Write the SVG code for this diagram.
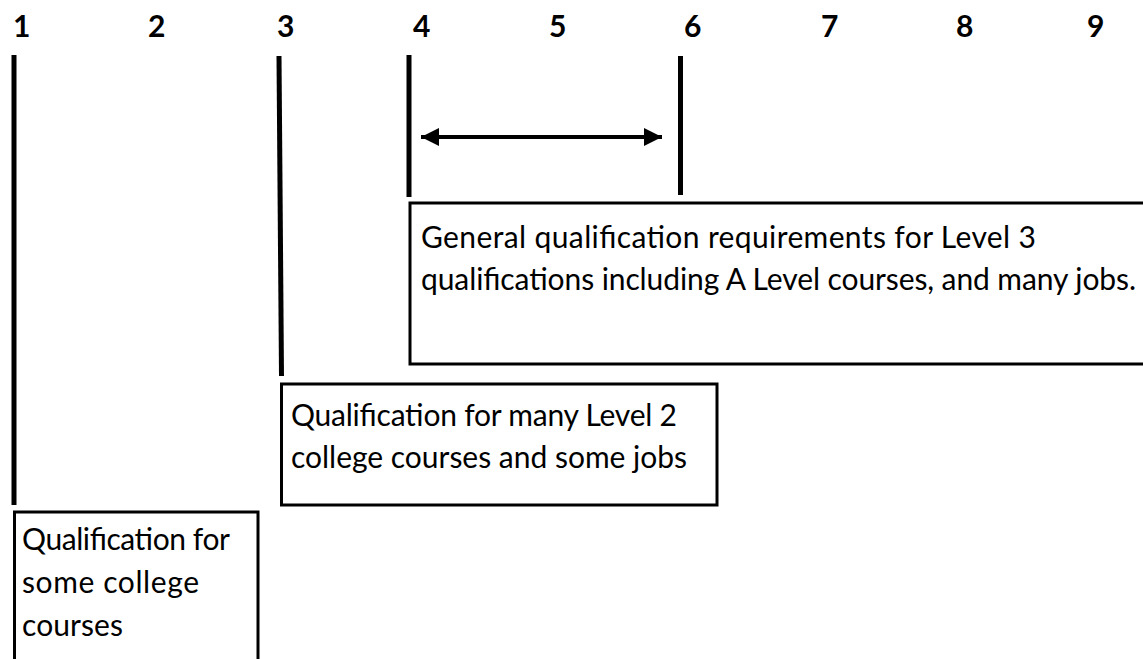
<svg xmlns="http://www.w3.org/2000/svg" width="1143" height="659" viewBox="0 0 1143 659">
<style>
.num{font-family:Lato,"Liberation Sans",sans-serif;font-weight:bold;font-size:30px;fill:#000}
.txt{font-family:Lato,"Liberation Sans",sans-serif;font-size:30px;fill:#000}
.bar{stroke:#000;stroke-width:5;fill:none}
.box{stroke:#000;stroke-width:3;fill:#fff}
</style>
<defs>
<marker id="ah" viewBox="0 0 10 10" refX="10" refY="5" markerWidth="4.5" markerHeight="4.5" orient="auto-start-reverse" markerUnits="strokeWidth">
<path d="M0,0 L10,5 L0,10 z" fill="#000"/>
</marker>
</defs>
<rect width="1143" height="659" fill="#fff"/>
<g id="scale">
<text class="num" x="13" y="37">1</text>
<text class="num" x="148" y="37">2</text>
<text class="num" x="277" y="37">3</text>
<text class="num" x="413" y="37">4</text>
<text class="num" x="549" y="37">5</text>
<text class="num" x="684" y="37">6</text>
<text class="num" x="821" y="37">7</text>
<text class="num" x="956" y="37">8</text>
<text class="num" x="1087" y="37">9</text>
</g>
<g id="connectors">
<line class="bar" x1="14" y1="55" x2="14" y2="505"/>
<line class="bar" x1="279" y1="56" x2="281.5" y2="376"/>
<line class="bar" x1="409" y1="55" x2="409" y2="197"/>
<line class="bar" x1="680.5" y1="56" x2="680.5" y2="195"/>
<line x1="421" y1="137" x2="662" y2="137" stroke="#000" stroke-width="4" marker-start="url(#ah)" marker-end="url(#ah)"/>
</g>
<g id="box3">
<rect class="box" x="410" y="203" width="740" height="161"/>
<text class="txt" x="421" y="248" textLength="615">General qualification requirements for Level 3</text>
<text class="txt" x="421" y="290" textLength="715">qualifications including A Level courses, and many jobs.</text>
</g>
<g id="box2">
<rect class="box" x="281.5" y="384" width="435.5" height="121"/>
<text class="txt" x="291" y="426" textLength="386">Qualification for many Level 2</text>
<text class="txt" x="291" y="468" textLength="396">college courses and some jobs</text>
</g>
<g id="box1">
<rect class="box" x="14.5" y="512" width="243.5" height="160"/>
<text class="txt" x="22" y="550" textLength="208">Qualification for</text>
<text class="txt" x="22" y="593" textLength="177">some college</text>
<text class="txt" x="22" y="636" textLength="101">courses</text>
</g>
</svg>
